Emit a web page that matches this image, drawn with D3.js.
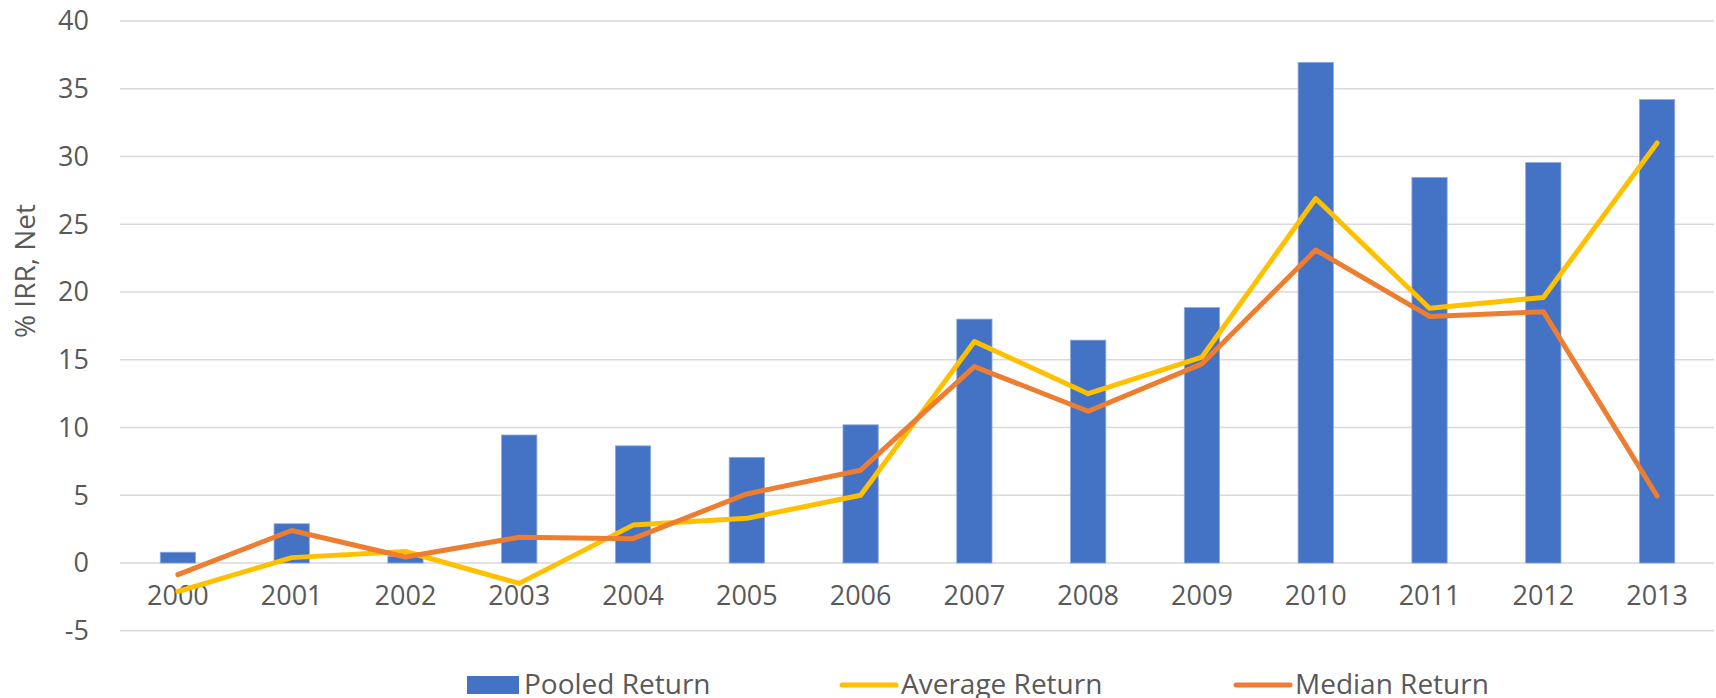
<!DOCTYPE html>
<html>
<head>
<meta charset="utf-8">
<script src="https://cdn.jsdelivr.net/npm/d3@7"></script>
<style>
  body { margin: 0; background: #fff; }
  svg text { font-family: "Open Sans", sans-serif; fill: #595959; }
</style>
</head>
<body>
<svg width="1716" height="698"></svg>
<script>
var years = ['2000', '2001', '2002', '2003', '2004', '2005', '2006', '2007', '2008', '2009', '2010', '2011', '2012', '2013'];
var pooled = [0.8, 2.9, 0.5, 9.45, 8.65, 7.8, 10.2, 18.0, 16.45, 18.85, 36.95, 28.45, 29.55, 34.2];
var average = [-2.1, 0.4, 0.85, -1.5, 2.8, 3.3, 5.0, 16.35, 12.5, 15.2, 26.9, 18.8, 19.6, 31.0];
var median = [-0.85, 2.4, 0.45, 1.9, 1.8, 5.1, 6.85, 14.5, 11.2, 14.7, 23.1, 18.2, 18.55, 4.95];
var yTicks = [-5, 0, 5, 10, 15, 20, 25, 30, 35, 40];

var svg = d3.select("svg");

var x = d3.scaleBand()
    .domain(years)
    .range([121, 1714])
    .paddingInner(0.69)
    .paddingOuter(0.345);

var y = d3.scaleLinear()
    .domain([-5, 40])
    .range([630.8, 21]);

var cx = d => x(d) + x.bandwidth() / 2;

// gridlines
svg.append("g")
  .selectAll("line")
  .data(yTicks)
  .join("line")
    .attr("x1", 120)
    .attr("x2", 1714)
    .attr("y1", d => y(d))
    .attr("y2", d => y(d))
    .attr("stroke", "#d9d9d9")
    .attr("stroke-width", 1.5);

// y tick labels
svg.append("g")
  .selectAll("text")
  .data(yTicks)
  .join("text")
    .attr("x", 89)
    .attr("y", d => y(d))
    .attr("dy", "0.35em")
    .attr("text-anchor", "end")
    .style("font-size", "27px")
    .text(d => d);

// y title
svg.append("text")
    .attr("transform", "translate(35,271) rotate(-90)")
    .attr("text-anchor", "middle")
    .style("font-size", "28px")
    .text("% IRR, Net");

// x labels
svg.append("g")
  .selectAll("text")
  .data(years)
  .join("text")
    .attr("x", cx)
    .attr("y", 605)
    .attr("text-anchor", "middle")
    .style("font-size", "27px")
    .text(d => d);

// bars
svg.append("g")
  .selectAll("rect")
  .data(years)
  .join("rect")
    .attr("x", d => x(d))
    .attr("width", x.bandwidth())
    .attr("y", (d, i) => y(Math.max(0, pooled[i])))
    .attr("height", (d, i) => Math.abs(y(pooled[i]) - y(0)))
    .attr("fill", "#4472c4")
    .attr("stroke", "#8eaadb")
    .attr("stroke-width", 0.8);

var line = d3.line()
    .x((d, i) => cx(years[i]))
    .y(d => y(d));

function drawLine(vals, col) {
  svg.append("path")
      .datum(vals)
      .attr("d", line)
      .attr("fill", "none")
      .attr("stroke", col)
      .attr("stroke-width", 5)
      .attr("stroke-linejoin", "round")
      .attr("stroke-linecap", "round");
}
drawLine(average, "#ffc000");
drawLine(median, "#ed7d31");

// legend (cut off at the bottom edge, as in the original)
var lg = svg.append("g");
lg.append("rect")
    .attr("x", 467).attr("y", 676)
    .attr("width", 52).attr("height", 18)
    .attr("fill", "#4472c4");
lg.append("text")
    .attr("x", 524).attr("y", 694)
    .style("font-size", "28px")
    .text("Pooled Return");

var legendLines = [
  { name: "Average Return", col: "#ffc000", x0: 842 },
  { name: "Median Return", col: "#ed7d31", x0: 1236 }
];
legendLines.forEach(function(l) {
  lg.append("line")
      .attr("x1", l.x0).attr("x2", l.x0 + 54)
      .attr("y1", 685).attr("y2", 685)
      .attr("stroke", l.col)
      .attr("stroke-width", 5)
      .attr("stroke-linecap", "round");
  lg.append("text")
      .attr("x", l.x0 + 59).attr("y", 694)
      .style("font-size", "28px")
      .text(l.name);
});
</script>
</body>
</html>
